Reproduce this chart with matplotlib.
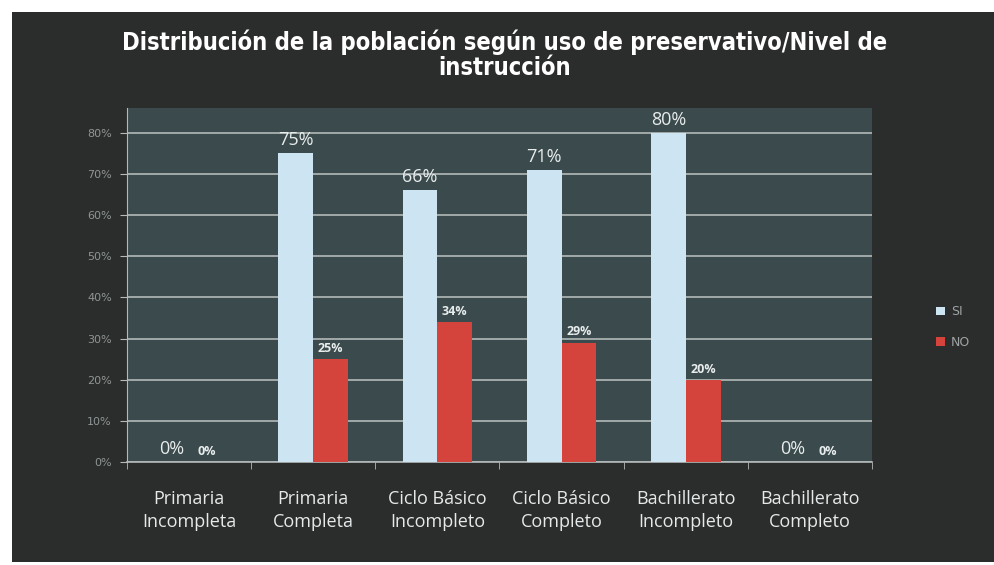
import numpy as np
import matplotlib
matplotlib.use('Agg')
import matplotlib.pyplot as plt
from matplotlib.patches import Rectangle

categories = ['Primaria\nIncompleta', 'Primaria\nCompleta', 'Ciclo Básico\nIncompleto',
              'Ciclo Básico\nCompleto', 'Bachillerato\nIncompleto', 'Bachillerato\nCompleto']
si_values = [0, 75, 66, 71, 80, 0]
no_values = [0, 25, 34, 29, 20, 0]
series_names = ['SI', 'NO']
y_ticks = [0, 10, 20, 30, 40, 50, 60, 70, 80]

BG = '#2b2d2c'
PLOT_BG = '#3a4a4d'
SI_COLOR = '#cde5f3'
NO_COLOR = '#d4443d'
GRID = '#b4b9b9'

fig = plt.figure(figsize=(9.94, 5.65), dpi=100)
fig.patch.set_facecolor('white')
fig.add_artist(Rectangle((12 / 994, 3 / 565), 1 - 12 / 994, 1 - 15 / 565,
                         transform=fig.transFigure, facecolor=BG, edgecolor='none', zorder=0))

ax = fig.add_axes([127 / 994, 1 - 462 / 565, (872 - 127) / 994, (462 - 108) / 565])
ax.set_facecolor(PLOT_BG)

x = np.arange(len(categories))
w = 0.28
b1 = ax.bar(x - w / 2, si_values, w, color=SI_COLOR, label=series_names[0], zorder=3)
b2 = ax.bar(x + w / 2, no_values, w, color=NO_COLOR, label=series_names[1], zorder=3)

for rect, v in zip(b1, si_values):
    ax.annotate(f'{v}%', (rect.get_x() + rect.get_width() / 2, v), xytext=(0, 3),
                textcoords='offset points', ha='center', va='bottom',
                color='#e8ecec', fontsize=13, family=['Open Sans', 'DejaVu Sans'])
for rect, v in zip(b2, no_values):
    ax.annotate(f'{v}%', (rect.get_x() + rect.get_width() / 2, v), xytext=(0, 3),
                textcoords='offset points', ha='center', va='bottom',
                color='#e8ecec', fontsize=9, fontweight='bold', family=['Open Sans', 'DejaVu Sans'])

ax.set_xlim(-0.5, len(categories) - 0.5)
ax.set_ylim(0, 86)
ax.set_yticks(y_ticks)
ax.set_yticklabels([f'{t}%' for t in y_ticks], color='#8f9595', fontsize=8)
ax.yaxis.grid(True, color=GRID, linewidth=1.2, zorder=1)
ax.set_axisbelow(True)

ax.set_xticks(x)
ax.set_xticklabels(categories, color='#e6e9e9', fontsize=13, linespacing=1.35,
                   family=['Open Sans', 'DejaVu Sans'])
ax.set_xticks(np.arange(len(categories) + 1) - 0.5, minor=True)
ax.tick_params(axis='x', which='major', length=0, pad=20)
ax.tick_params(axis='x', which='minor', length=5, color=GRID)
ax.tick_params(axis='y', length=5, color=GRID, pad=6)

for s in ['top', 'right']:
    ax.spines[s].set_visible(False)
ax.spines['left'].set_color(GRID)
ax.spines['bottom'].set_color(GRID)
ax.spines['bottom'].set_linewidth(1.2)

leg = fig.legend(handles=[b1, b2], loc='center left', bbox_to_anchor=(925 / 994, 1 - 327 / 565),
                 frameon=False, fontsize=9, handlelength=0.7, handleheight=0.7,
                 labelspacing=1.4, handletextpad=0.5)
for t in leg.get_texts():
    t.set_color('#9ea3a3')

fig.text(505 / 994, 1 - 55 / 565,
         'Distribución de la población según uso de preservativo/Nivel de\ninstrucción',
         ha='center', va='center', color='white', fontsize=17, linespacing=1.05,
         fontweight='bold', fontstretch='condensed',
         family=['Liberation Sans Narrow', 'DejaVu Sans'])

fig.savefig('out.png', dpi=100, facecolor=fig.get_facecolor())
